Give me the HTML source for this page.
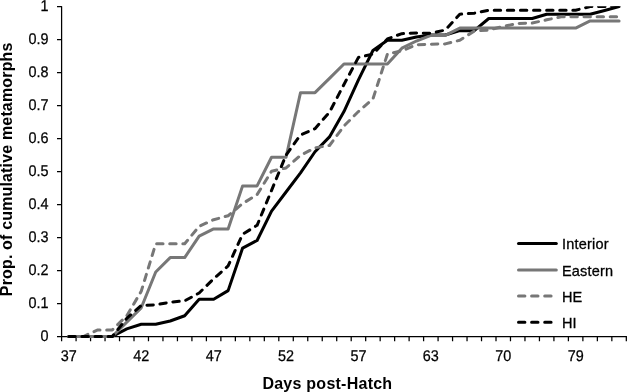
<!DOCTYPE html>
<html><head><meta charset="utf-8"><style>
html,body{margin:0;padding:0;background:#fff;width:627px;height:392px;overflow:hidden}
svg{display:block;filter:grayscale(1)}
.t{text-rendering:geometricPrecision;font-family:"Liberation Sans",sans-serif;font-size:14.4px;fill:#000;stroke:#000;stroke-width:0.25px}
.l{font-family:"Liberation Sans",sans-serif;font-size:14.5px;letter-spacing:0.22px;fill:#000;stroke:#000;stroke-width:0.3px}
.b{font-family:"Liberation Sans",sans-serif;font-size:16px;font-weight:bold;fill:#000}
</style></head><body>
<svg width="627" height="392" viewBox="0 0 627 392">
<path d="M57.00 6.60H61.60V341.30" fill="none" stroke="#000" stroke-width="1.25" stroke-linejoin="round"/>
<line x1="61.0" y1="336.5" x2="626.9200000000001" y2="336.5" stroke="#000" stroke-width="1.25"/>
<path d="M57.00 336.50H61.60 M57.00 303.51H61.60 M57.00 270.52H61.60 M57.00 237.53H61.60 M57.00 204.54H61.60 M57.00 171.55H61.60 M57.00 138.56H61.60 M57.00 105.57H61.60 M57.00 72.58H61.60 M57.00 39.59H61.60 M76.08 336.50V341.30 M90.56 336.50V341.30 M105.04 336.50V341.30 M119.52 336.50V341.30 M134.00 336.50V341.30 M148.48 336.50V341.30 M162.96 336.50V341.30 M177.44 336.50V341.30 M191.92 336.50V341.30 M206.40 336.50V341.30 M220.88 336.50V341.30 M235.36 336.50V341.30 M249.84 336.50V341.30 M264.32 336.50V341.30 M278.80 336.50V341.30 M293.28 336.50V341.30 M307.76 336.50V341.30 M322.24 336.50V341.30 M336.72 336.50V341.30 M351.20 336.50V341.30 M365.68 336.50V341.30 M380.16 336.50V341.30 M394.64 336.50V341.30 M409.12 336.50V341.30 M423.60 336.50V341.30 M438.08 336.50V341.30 M452.56 336.50V341.30 M467.04 336.50V341.30 M481.52 336.50V341.30 M496.00 336.50V341.30 M510.48 336.50V341.30 M524.96 336.50V341.30 M539.44 336.50V341.30 M553.92 336.50V341.30 M568.40 336.50V341.30 M582.88 336.50V341.30 M597.36 336.50V341.30 M611.84 336.50V341.30 M626.32 336.50V341.30" stroke="#000" stroke-width="1.25" fill="none"/>
<text transform="translate(48.4,340.80) scale(1,1.08)" text-anchor="end" class="t">0</text>
<text transform="translate(48.4,307.81) scale(1,1.08)" text-anchor="end" class="t">0.1</text>
<text transform="translate(48.4,274.82) scale(1,1.08)" text-anchor="end" class="t">0.2</text>
<text transform="translate(48.4,241.83) scale(1,1.08)" text-anchor="end" class="t">0.3</text>
<text transform="translate(48.4,208.84) scale(1,1.08)" text-anchor="end" class="t">0.4</text>
<text transform="translate(48.4,175.85) scale(1,1.08)" text-anchor="end" class="t">0.5</text>
<text transform="translate(48.4,142.86) scale(1,1.08)" text-anchor="end" class="t">0.6</text>
<text transform="translate(48.4,109.87) scale(1,1.08)" text-anchor="end" class="t">0.7</text>
<text transform="translate(48.4,76.88) scale(1,1.08)" text-anchor="end" class="t">0.8</text>
<text transform="translate(48.4,43.89) scale(1,1.08)" text-anchor="end" class="t">0.9</text>
<text transform="translate(48.4,10.90) scale(1,1.08)" text-anchor="end" class="t">1</text>
<text transform="translate(68.84,360.8) scale(1,1.08)" text-anchor="middle" class="t">37</text>
<text transform="translate(141.24,360.8) scale(1,1.08)" text-anchor="middle" class="t">42</text>
<text transform="translate(213.64,360.8) scale(1,1.08)" text-anchor="middle" class="t">47</text>
<text transform="translate(286.04,360.8) scale(1,1.08)" text-anchor="middle" class="t">52</text>
<text transform="translate(358.44,360.8) scale(1,1.08)" text-anchor="middle" class="t">57</text>
<text transform="translate(430.84,360.8) scale(1,1.08)" text-anchor="middle" class="t">63</text>
<text transform="translate(503.24,360.8) scale(1,1.08)" text-anchor="middle" class="t">70</text>
<text transform="translate(575.64,360.8) scale(1,1.08)" text-anchor="middle" class="t">79</text>
<defs><clipPath id="pa"><rect x="0" y="6.2" width="627" height="386"/></clipPath></defs>
<g clip-path="url(#pa)">
<polyline points="68.84,336.50 83.32,336.50 97.80,336.50 112.28,336.50 126.76,328.91 141.24,324.29 155.72,324.29 170.20,320.99 184.68,315.72 199.16,299.22 213.64,299.22 228.12,290.64 242.60,248.09 257.08,240.50 271.56,211.14 286.04,192.00 300.52,172.87 315.00,151.76 329.48,136.91 343.96,111.51 358.44,79.84 372.92,50.48 387.40,40.25 401.88,40.25 416.36,36.95 430.84,34.97 445.32,34.97 459.80,30.68 474.28,30.68 488.76,18.48 503.24,18.48 517.72,18.48 532.20,18.48 546.68,14.19 561.16,14.19 575.64,14.19 590.12,14.19 604.60,10.56 619.08,6.60" fill="none" stroke="#000" stroke-width="3" stroke-linecap="round" stroke-linejoin="round"/>
<polyline points="68.84,336.50 83.32,336.50 97.80,336.50 112.28,336.50 126.76,322.16 141.24,307.81 155.72,271.95 170.20,257.61 184.68,257.61 199.16,236.10 213.64,228.92 228.12,228.92 242.60,185.89 257.08,185.89 271.56,157.21 286.04,157.21 300.52,92.66 315.00,92.66 329.48,78.32 343.96,63.97 358.44,63.97 372.92,63.97 387.40,63.97 401.88,48.20 416.36,41.02 430.84,35.29 445.32,35.29 459.80,28.12 474.28,28.12 488.76,28.12 503.24,28.12 517.72,28.12 532.20,28.12 546.68,28.12 561.16,28.12 575.64,28.12 590.12,20.94 604.60,20.94 619.08,20.94" fill="none" stroke="#777" stroke-width="3" stroke-linecap="round" stroke-linejoin="round"/>
<polyline points="68.84,336.50 83.32,336.50 97.80,329.90 112.28,329.90 126.76,315.72 141.24,291.30 155.72,243.80 170.20,243.80 184.68,243.80 199.16,226.31 213.64,219.72 228.12,215.76 242.60,203.55 257.08,194.64 271.56,171.22 286.04,167.92 300.52,155.38 315.00,147.80 329.48,145.49 343.96,126.02 358.44,111.51 372.92,98.97 387.40,54.11 401.88,50.81 416.36,44.87 430.84,44.21 445.32,43.88 459.80,40.25 474.28,31.01 488.76,30.02 503.24,26.39 517.72,23.42 532.20,23.10 546.68,19.80 561.16,16.83 575.64,16.83 590.12,16.83 604.60,16.83 619.08,16.83" fill="none" stroke="#777" stroke-width="3" stroke-dasharray="6.4 6.7" stroke-linecap="round" stroke-linejoin="round"/>
<polyline points="68.84,336.50 83.32,336.50 97.80,336.50 112.28,336.50 126.76,318.36 141.24,305.49 155.72,304.83 170.20,302.19 184.68,300.87 199.16,292.95 213.64,278.77 228.12,265.90 242.60,234.23 257.08,225.32 271.56,190.35 286.04,155.06 300.52,134.93 315.00,128.66 329.48,112.17 343.96,84.46 358.44,57.40 372.92,54.11 387.40,38.93 401.88,33.65 416.36,32.99 430.84,33.32 445.32,30.02 459.80,14.19 474.28,13.20 488.76,10.23 503.24,10.23 517.72,10.23 532.20,10.23 546.68,10.23 561.16,10.23 575.64,10.23 590.12,6.60 604.60,6.60 619.08,6.60" fill="none" stroke="#000" stroke-width="3" stroke-dasharray="6.4 6.7" stroke-linecap="round" stroke-linejoin="round"/>
</g>
<line x1="518.5" y1="243.4" x2="556.3" y2="243.4" stroke="#000" stroke-width="3" stroke-linecap="round"/>
<text x="561.9" y="249.00" class="l">Interior</text>
<line x1="518.5" y1="270.0" x2="556.3" y2="270.0" stroke="#777" stroke-width="3" stroke-linecap="round"/>
<text x="561.9" y="275.60" class="l">Eastern</text>
<line x1="518.5" y1="296.0" x2="556.3" y2="296.0" stroke="#777" stroke-width="3" stroke-linecap="round" stroke-dasharray="6.4 6.7"/>
<text x="561.9" y="301.60" class="l">HE</text>
<line x1="518.5" y1="322.2" x2="556.3" y2="322.2" stroke="#000" stroke-width="3" stroke-linecap="round" stroke-dasharray="6.4 6.7"/>
<text x="561.9" y="327.80" class="l">HI</text>
<text x="327.4" y="388.5" text-anchor="middle" class="b" style="letter-spacing:0.25px">Days post-Hatch</text>
<text transform="translate(11.5,169.3) rotate(-90)" x="0" y="0" text-anchor="middle" class="b" style="letter-spacing:0.16px">Prop. of cumulative metamorphs</text>
</svg>
</body></html>
